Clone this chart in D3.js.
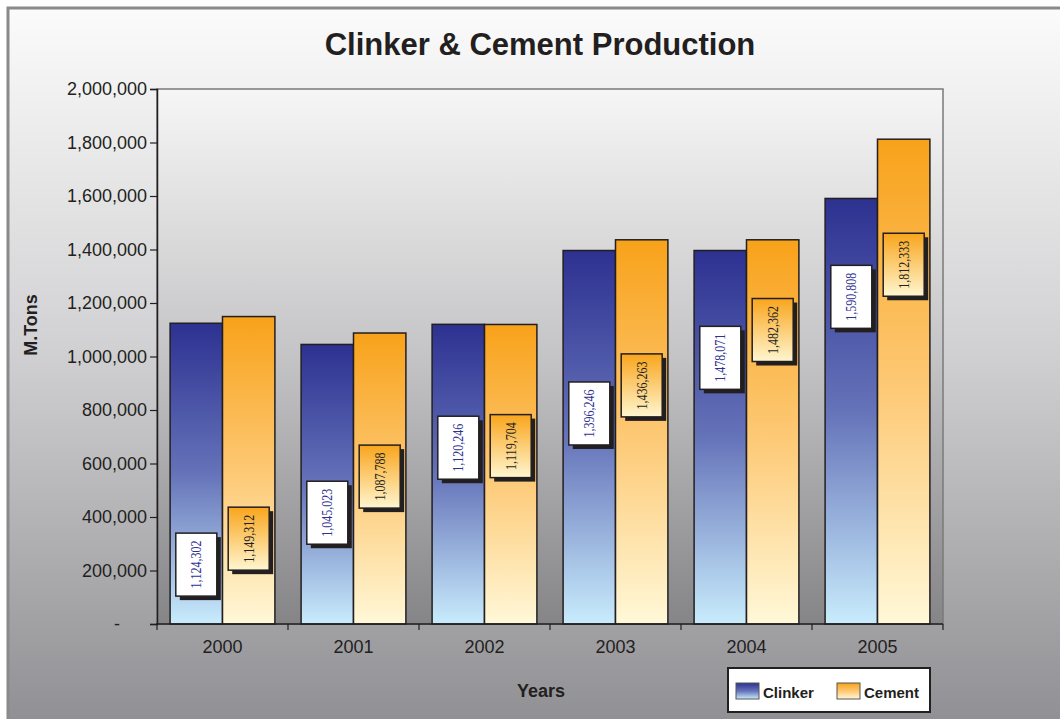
<!DOCTYPE html>
<html>
<head>
<meta charset="utf-8">
<script src="https://cdn.jsdelivr.net/npm/d3@7"></script>
<style>
  body { margin: 0; background: #fff; }
  svg { display: block; font-family: "Liberation Sans", Arial, sans-serif; }
</style>
</head>
<body>
<div id="chart"></div>
<script>
// data
const years = ["2000", "2001", "2002", "2003", "2004", "2005"];
const series = ["Clinker", "Cement"];
// bar heights (2004 bars are drawn at the 2003 height in the original)
const clinkerBars = [1124302, 1045023, 1120246, 1396246, 1396246, 1590808];
const cementBars = [1149312, 1087788, 1119704, 1436263, 1436263, 1812333];
// numbers printed in the data labels
const clinkerLabels = [1124302, 1045023, 1120246, 1396246, 1478071, 1590808];
const cementLabels = [1149312, 1087788, 1119704, 1436263, 1482362, 1812333];
// where the (hand placed) labels sit, in axis units
const clinkerLabelAt = [222000, 416000, 659000, 787000, 995000, 1223000];
const cementLabelAt = [319000, 551000, 665000, 892000, 1099000, 1343000];
const yTicks = [0, 200000, 400000, 600000, 800000, 1000000, 1200000, 1400000, 1600000, 1800000, 2000000];

let W = 1060, H = 719,
    PLOT_L = 157, PLOT_R = 943, PLOT_T = 89, PLOT_B = 624,
    LABEL_W = 41, LABEL_H = 63, SHADOW = 4,
    SANS = "'Liberation Sans', Arial, sans-serif";

let svg = d3.select("#chart").append("svg")
    .attr("width", W)
    .attr("height", H);

let defs = svg.append("defs");

function vgrad(id, stops) {
    let g = defs.append("linearGradient")
        .attr("id", id)
        .attr("x1", 0).attr("y1", 0).attr("x2", 0).attr("y2", 1);
    stops.forEach(s => g.append("stop").attr("offset", s[0]).attr("stop-color", s[1]));
}
vgrad("bg", [[0, "#fbfbfb"], [0.45, "#d2d2d4"], [1, "#8c8c90"]]);
vgrad("plotbg", [[0, "#f6f6f6"], [0.5, "#c4c4c6"], [1, "#858588"]]);
vgrad("g-Clinker", [[0, "#2d3191"], [0.5, "#6573b9"], [1, "#c8ecfc"]]);
vgrad("g-Cement", [[0, "#f8a21a"], [0.5, "#fdc873"], [1, "#fff8d8"]]);
vgrad("lab-Cement", [[0, "#f9a51c"], [1, "#fff6d0"]]);

// chart area background + frame
svg.append("rect")
    .attr("x", 8).attr("y", 8)
    .attr("width", W + 20).attr("height", H + 20)
    .attr("fill", "url(#bg)")
    .attr("stroke", "#8a8a8a")
    .attr("stroke-width", 3);

// plot area
svg.append("rect")
    .attr("x", PLOT_L).attr("y", PLOT_T)
    .attr("width", PLOT_R - PLOT_L).attr("height", PLOT_B - PLOT_T)
    .attr("fill", "url(#plotbg)")
    .attr("stroke", "#7a7a7a")
    .attr("stroke-width", 1.5);

// scales
let x = d3.scaleBand().domain(years).range([PLOT_L, PLOT_R]);
let x1 = d3.scaleBand().domain(series).range([0, x.bandwidth()]).paddingOuter(0.25);
let y = d3.scaleLinear().domain([0, 2000000]).range([PLOT_B, PLOT_T]);

let rows = years.map((yr, i) => ({
    year: yr,
    vals: [
        {key: "Clinker", bar: clinkerBars[i], label: clinkerLabels[i], at: clinkerLabelAt[i]},
        {key: "Cement", bar: cementBars[i], label: cementLabels[i], at: cementLabelAt[i]}
    ]
}));

// bars
let group = svg.append("g")
    .selectAll("g")
    .data(rows)
    .join("g")
    .attr("transform", d => `translate(${x(d.year)},0)`);

group.selectAll("rect.bar")
    .data(d => d.vals)
    .join("rect")
    .attr("class", "bar")
    .attr("x", d => x1(d.key))
    .attr("y", d => y(d.bar))
    .attr("width", x1.bandwidth())
    .attr("height", d => y(0) - y(d.bar))
    .attr("fill", d => `url(#g-${d.key})`)
    .attr("stroke", "#231f20")
    .attr("stroke-width", 1.5);

// data labels
let fmt = d3.format(",");
let lab = group.selectAll("g.lab")
    .data(d => d.vals)
    .join("g")
    .attr("class", "lab")
    .attr("transform", d => `translate(${x1(d.key) + x1.bandwidth() / 2},${y(d.at)})`);

lab.append("rect")
    .attr("x", -LABEL_W / 2 + SHADOW).attr("y", -LABEL_H / 2 + SHADOW)
    .attr("width", LABEL_W).attr("height", LABEL_H)
    .attr("fill", "#231f20");

lab.append("rect")
    .attr("x", -LABEL_W / 2).attr("y", -LABEL_H / 2)
    .attr("width", LABEL_W).attr("height", LABEL_H)
    .attr("fill", d => d.key == "Clinker" ? "#ffffff" : "url(#lab-Cement)")
    .attr("stroke", "#231f20")
    .attr("stroke-width", 1.5);

lab.append("text")
    .attr("transform", "rotate(-90)")
    .attr("text-anchor", "middle")
    .attr("dominant-baseline", "central")
    .attr("font-family", "'Liberation Serif', 'DejaVu Serif', serif")
    .attr("font-size", 14.5)
    .attr("textLength", 48)
    .attr("lengthAdjust", "spacingAndGlyphs")
    .attr("fill", d => d.key == "Clinker" ? "#2e3192" : "#231f20")
    .text(d => fmt(d.label));

// y axis
let yAxis = svg.append("g")
    .attr("transform", `translate(${PLOT_L},0)`)
    .call(d3.axisLeft(y).tickValues(yTicks).tickSize(7).tickPadding(3)
        .tickFormat(d => d == 0 ? "-" : fmt(d)));
yAxis.select(".domain").attr("stroke", "#231f20").attr("stroke-width", 1.5);
yAxis.selectAll(".tick line").attr("stroke", "#231f20").attr("stroke-width", 1.2);
yAxis.selectAll(".tick text")
    .attr("font-size", 18)
    .attr("font-family", SANS)
    .attr("fill", "#231f20");
// the zero dash sits further left, as in the accounting format
yAxis.selectAll(".tick text")
    .filter(d => d == 0)
    .attr("x", -40)
    .attr("text-anchor", "middle");

// x axis
let xAxis = svg.append("g")
    .attr("transform", `translate(0,${PLOT_B})`)
    .call(d3.axisBottom(x).tickSize(0).tickPadding(16));
xAxis.select(".domain").remove();
xAxis.selectAll(".tick text")
    .attr("font-size", 18)
    .attr("font-family", SANS)
    .attr("fill", "#231f20");
xAxis.append("line")
    .attr("x1", PLOT_L - 1).attr("x2", PLOT_R)
    .attr("stroke", "#231f20").attr("stroke-width", 1.5);
xAxis.selectAll("line.bound")
    .data(years.map(d => x(d)).concat([PLOT_R]))
    .join("line")
    .attr("class", "bound")
    .attr("x1", d => d).attr("x2", d => d)
    .attr("y1", 0).attr("y2", 6)
    .attr("stroke", "#231f20").attr("stroke-width", 1.2);

// titles
svg.append("text")
    .attr("x", 540).attr("y", 55)
    .attr("text-anchor", "middle")
    .attr("font-family", SANS)
    .attr("font-size", 31).attr("font-weight", "bold")
    .attr("fill", "#231f20")
    .text("Clinker & Cement Production");

svg.append("text")
    .attr("transform", "translate(37,325) rotate(-90)")
    .attr("text-anchor", "middle")
    .attr("font-family", SANS)
    .attr("font-size", 18).attr("font-weight", "bold")
    .attr("fill", "#231f20")
    .text("M.Tons");

svg.append("text")
    .attr("x", 541).attr("y", 697)
    .attr("text-anchor", "middle")
    .attr("font-family", SANS)
    .attr("font-size", 18).attr("font-weight", "bold")
    .attr("fill", "#231f20")
    .text("Years");

// legend
let legend = svg.append("g").attr("transform", "translate(728,668)");
legend.append("rect")
    .attr("width", 202).attr("height", 44)
    .attr("fill", "#ffffff")
    .attr("stroke", "#231f20").attr("stroke-width", 2);

let item = legend.selectAll("g.item")
    .data(series)
    .join("g")
    .attr("class", "item")
    .attr("transform", (d, i) => `translate(${8 + i * 101},15)`);

item.append("rect")
    .attr("width", 23).attr("height", 16)
    .attr("fill", d => `url(#g-${d})`)
    .attr("stroke", "#555").attr("stroke-width", 1);

item.append("text")
    .attr("x", 27).attr("y", 15)
    .attr("font-family", SANS)
    .attr("font-size", 15).attr("font-weight", "bold")
    .attr("fill", "#231f20")
    .text(d => d);
</script>
</body>
</html>
